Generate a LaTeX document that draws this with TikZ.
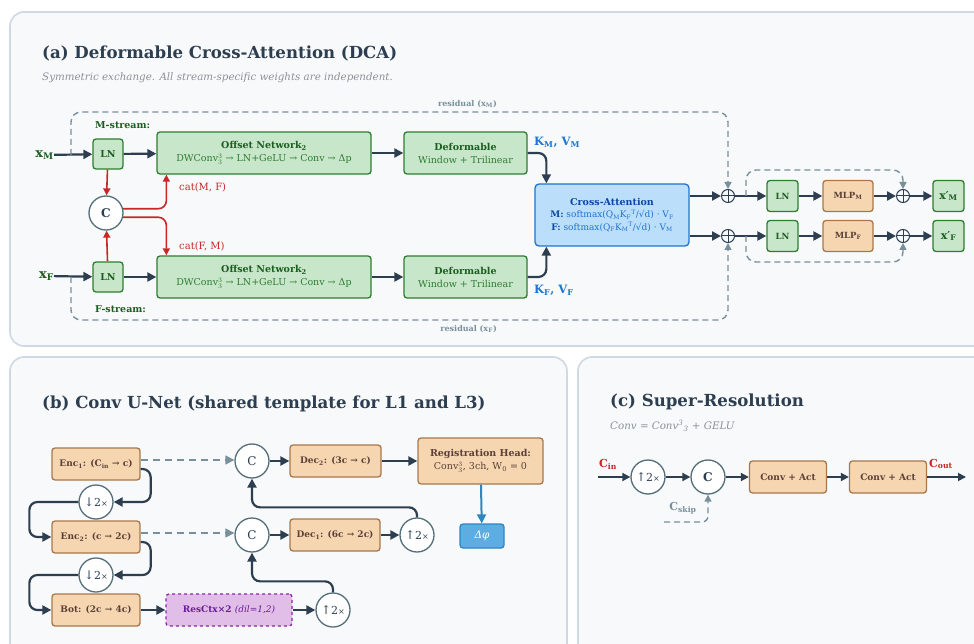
\documentclass[tikz,border=0pt]{standalone}
\usepackage{fontspec}
\setmainfont{DejaVu Serif}
\usetikzlibrary{arrows.meta,positioning}
\definecolor{navy}{HTML}{2C3E50}
\definecolor{panelline}{HTML}{CFD8E3}
\definecolor{panelbg}{HTML}{F8F9FA}
\definecolor{gfill}{HTML}{C8E6C9}
\definecolor{gline}{HTML}{2E7D32}
\definecolor{gtext}{HTML}{1B5E20}
\definecolor{ofill}{HTML}{F5D6B1}
\definecolor{oline}{HTML}{A8784C}
\definecolor{otext}{HTML}{5D4037}
\definecolor{bfill}{HTML}{BBDEFB}
\definecolor{bline}{HTML}{1E74D0}
\definecolor{btext}{HTML}{0D47A1}
\definecolor{catred}{HTML}{C62828}
\definecolor{resgray}{HTML}{78909C}
\definecolor{pfill}{HTML}{E1BEE7}
\definecolor{pline}{HTML}{8E24AA}
\definecolor{ptext}{HTML}{6A1B9A}
\definecolor{dfill}{HTML}{5DADE2}
\definecolor{dline}{HTML}{2E86C1}
\definecolor{circline}{HTML}{546E7A}
\definecolor{notegray}{HTML}{8A9299}
\newcommand{\updn}[1]{{\fontsize{12}{12}\selectfont#1}2{\fontsize{8}{8}\selectfont×}}
\begin{document}
\begin{tikzpicture}[x=1pt,y=-1pt,
    panel/.style={draw=panelline, fill=panelbg, line width=1.6pt, rounded corners=14pt},
    title/.style={anchor=west, inner sep=0pt, text=navy, font=\fontsize{16.6}{20}\selectfont\bfseries},
    note/.style={anchor=west, inner sep=0pt, text=notegray, font=\fontsize{10.3}{12}\selectfont\itshape},
    gbox/.style={draw=gline, fill=gfill, line width=1.3pt, rounded corners=3pt, align=center,
        inner sep=1pt, text=gtext, font=\fontsize{9.5}{13}\selectfont\bfseries},
    obox/.style={draw=oline, fill=ofill, line width=1.3pt, rounded corners=3pt, align=center,
        inner sep=1pt, text=otext, font=\fontsize{9}{13}\selectfont\bfseries, minimum height=32pt},
    circ/.style={circle, draw=circline, fill=white, line width=1.3pt, minimum size=34pt,
        inner sep=0pt, text=navy, font=\fontsize{11}{12}\selectfont},
    oplus/.style={circle, draw=navy, line width=1pt, minimum size=13pt, inner sep=0pt,
        path picture={\draw[navy, line width=1pt]
            (path picture bounding box.north) -- (path picture bounding box.south)
            (path picture bounding box.west) -- (path picture bounding box.east);}},
    arr/.style={draw=navy, line width=2.2pt, rounded corners=8pt, -{Triangle[length=9pt,width=9pt]}},
    redarr/.style={draw=catred, line width=1.6pt, rounded corners=8pt, -{Triangle[length=7pt,width=7pt]}},
    resid/.style={draw=resgray, line width=1.4pt, dash pattern=on 6pt off 4pt, rounded corners=10pt,
        -{Triangle[length=7pt,width=7pt]}},
    lab/.style={inner sep=0pt, font=\fontsize{9.5}{11}\selectfont\bfseries}]
\clip (0,0) rectangle (974,644);
\fill[white] (0,0) rectangle (974,644);
\draw[panel] (10,12) rectangle (1000,346);
\draw[panel] (10,357) rectangle (567,670);
\draw[panel] (578,357) rectangle (1000,670);

% (a)
\node[title] (ttla) at (42,53) {(a) Deformable Cross-Attention (DCA)};
\node[note] (nota) at (42,78) {Symmetric exchange. All stream-specific weights are independent.};
\node[lab, text=gtext, anchor=west] (mstr) at (95,125) {M-stream:};
\node[lab, text=gtext, anchor=west] (fstr) at (95,309) {F-stream:};
\node[lab, text=gtext, font=\fontsize{13}{14}\selectfont\bfseries, anchor=east] (xm) at (54,155) {x\textsubscript{M}};
\node[lab, text=gtext, font=\fontsize{13}{14}\selectfont\bfseries, anchor=east] (xf) at (54,276) {x\textsubscript{F}};
\node[gbox, minimum size=30pt] (lnm) at (108,154) {LN};
\node[gbox, minimum size=30pt] (lnf) at (108,277) {LN};
\node[gbox, minimum width=214pt, minimum height=42pt] (offm) at (264,153)
    {Offset Network\textsubscript{2}\\{\mdseries\color{gline}DWConv$^{3}_{3}$ → LN+GeLU → Conv → Δp}};
\node[gbox, minimum width=214pt, minimum height=42pt] (offf) at (264,277)
    {Offset Network\textsubscript{2}\\{\mdseries\color{gline}DWConv$^{3}_{3}$ → LN+GeLU → Conv → Δp}};
\node[gbox, minimum width=123pt, minimum height=42pt] (defm) at (465.5,153)
    {Deformable\\{\mdseries\color{gline}Window + Trilinear}};
\node[gbox, minimum width=123pt, minimum height=42pt] (deff) at (465.5,277)
    {Deformable\\{\mdseries\color{gline}Window + Trilinear}};
\node[circ, font=\fontsize{12}{12}\selectfont\bfseries] (cat) at (106,213) {C};
\node[draw=bline, fill=bfill, line width=1.3pt, rounded corners=4pt, minimum width=154pt,
    minimum height=62pt, align=center, inner sep=1pt, text=bline,
    font=\fontsize{9}{12.5}\selectfont] (ca) at (612,215)
    {{\color{btext}\bfseries\fontsize{9.5}{12}\selectfont Cross-Attention}\\
     {\color{btext}\bfseries M:} softmax(Q\textsubscript{M}K\textsubscript{F}\textsuperscript{T}/√d) · V\textsubscript{F}\\
     {\color{btext}\bfseries F:} softmax(Q\textsubscript{F}K\textsubscript{M}\textsuperscript{T}/√d) · V\textsubscript{M}};
\node[lab, text=bline, font=\fontsize{11.5}{14}\selectfont\bfseries, anchor=west] (kvm) at (534,142)
    {K\textsubscript{M}, V\textsubscript{M}};
\node[lab, text=bline, font=\fontsize{11.5}{14}\selectfont\bfseries, anchor=west] (kvf) at (534,290)
    {K\textsubscript{F}, V\textsubscript{F}};
\node[lab, text=catred, font=\fontsize{10}{12}\selectfont, anchor=west] (catmf) at (179,187) {cat(M, F)};
\node[lab, text=catred, font=\fontsize{10}{12}\selectfont, anchor=west] (catfm) at (179,246) {cat(F, M)};
\node[oplus] (pm) at (728,196) {};
\node[oplus] (pf) at (728,236) {};
\node[gbox, minimum size=31pt, font=\fontsize{8.5}{10}\selectfont\bfseries] (lnm2) at (782.5,196) {LN};
\node[gbox, minimum size=31pt, font=\fontsize{8.5}{10}\selectfont\bfseries] (lnf2) at (782.5,236) {LN};
\node[obox, minimum width=50pt, minimum height=31pt, font=\fontsize{8.5}{10}\selectfont\bfseries] (mlpm) at (848,196) {MLP\textsubscript{M}};
\node[obox, minimum width=50pt, minimum height=31pt, font=\fontsize{8.5}{10}\selectfont\bfseries] (mlpf) at (848,236) {MLP\textsubscript{F}};
\node[oplus] (pm2) at (903,196) {};
\node[oplus] (pf2) at (903,236) {};
\node[gbox, minimum size=31pt, font=\fontsize{11}{12}\selectfont\bfseries] (outm) at (948.5,196) {x′\textsubscript{M}};
\node[gbox, minimum size=31pt, font=\fontsize{11}{12}\selectfont\bfseries] (outf) at (948.5,236) {x′\textsubscript{F}};
\node[lab, text=resgray, font=\fontsize{8}{10}\selectfont\bfseries, anchor=east] (resm) at (497,104) {residual (x\textsubscript{M})};
\node[lab, text=resgray, font=\fontsize{8}{10}\selectfont\bfseries, anchor=east] (resf) at (497,329) {residual (x\textsubscript{F})};
\coordinate (rm) at (71,155);
\coordinate (rf) at (71,277);
\coordinate (rtop) at (400,112);
\coordinate (rbot) at (400,320);
\coordinate (mtop) at (825,170);
\coordinate (mbot) at (825,262);
\coordinate (mresm) at (746,196);
\coordinate (mresf) at (746,236);

\draw[arr] (xm) -- (lnm);
\draw[arr] (xf) -- (lnf);
\draw[arr] (lnm) -- (offm);
\draw[arr] (lnf) -- (offf);
\draw[arr] (offm) -- (defm);
\draw[arr] (offf) -- (deff);
\draw[arr] (defm.east) -| ([xshift=12pt]ca.north west);
\draw[arr] (deff.east) -| ([xshift=12pt]ca.south west);
\draw[redarr] (lnm) -- (cat);
\draw[redarr] (lnf) -- (cat);
\draw[redarr] (cat.14) -| ([xshift=10pt]offm.south west);
\draw[redarr] (cat.-14) -| ([xshift=10pt]offf.north west);
\draw[arr] (ca.east |- pm) -- (pm);
\draw[arr] (ca.east |- pf) -- (pf);
\draw[arr] (pm) -- (lnm2);
\draw[arr] (pf) -- (lnf2);
\draw[arr] (lnm2) -- (mlpm);
\draw[arr] (lnf2) -- (mlpf);
\draw[arr] (mlpm) -- (pm2);
\draw[arr] (mlpf) -- (pf2);
\draw[arr] (pm2) -- (outm);
\draw[arr] (pf2) -- (outf);
\draw[resid] (rm) |- (rtop) -| (pm.north);
\draw[resid] (rf) |- (rbot) -| (pf.south);
\draw[resid] (mresm) |- (mtop) -| (pm2.north);
\draw[resid] (mresf) |- (mbot) -| (pf2.south);

% (b)
\node[title] (ttlb) at (42,404) {(b) Conv U-Net (shared template for L1 and L3)};
\node[obox, minimum width=88pt] (enc1) at (96,464) {Enc\textsubscript{1}: (C\textsubscript{in} → c)};
\node[circ] (down1) at (96,502) {\updn{↓}};
\node[obox, minimum width=88pt] (enc2) at (96,537) {Enc\textsubscript{2}: (c → 2c)};
\node[circ] (down2) at (96,575) {\updn{↓}};
\node[obox, minimum width=88pt] (bot) at (96,610) {Bot: (2c → 4c)};
\node[draw=pline, fill=pfill, line width=1.3pt, dashed, rounded corners=3pt, minimum width=126pt,
    minimum height=32pt, text=ptext, font=\fontsize{9}{12}\selectfont\bfseries] (ctx) at (229,610)
    {ResCtx×2 {\mdseries\itshape(dil=1,2)}};
\node[circ] (up1) at (333,610) {\updn{↑}};
\node[circ, font=\fontsize{12}{12}\selectfont] (cl) at (252,535) {C};
\node[obox, minimum width=90pt] (dec1) at (335,535) {Dec\textsubscript{1}: (6c → 2c)};
\node[circ] (up2) at (417,535) {\updn{↑}};
\node[circ, font=\fontsize{12}{12}\selectfont] (cu) at (252,461) {C};
\node[obox, minimum width=91pt] (dec2) at (335.5,461) {Dec\textsubscript{2}: (3c → c)};
\node[obox, minimum width=125pt, minimum height=46pt, font=\fontsize{9.5}{13}\selectfont\bfseries] (reg) at (480.5,461)
    {Registration Head:\\{\mdseries Conv$^{3}_{3}$, 3ch, W\textsubscript{0} = 0}};
\node[draw=dline, fill=dfill, line width=1.3pt, rounded corners=3pt, minimum width=44pt,
    minimum height=24pt, text=white, font=\fontsize{10.5}{12}\selectfont\itshape] (dphi) at (482,536) {Δφ};

\draw[arr] ([yshift=-5pt]enc1.east) -- ++(10,0) |- (down1.east);
\draw[arr] (down1.west) -| ([xshift=-22pt]enc2.west) -- (enc2.west);
\draw[arr] ([yshift=-5pt]enc2.east) -- ++(10,0) |- (down2.east);
\draw[arr] (down2.west) -| ([xshift=-22pt]bot.west) -- (bot.west);
\draw[arr] (bot) -- (ctx);
\draw[arr] (ctx) -- (up1);
\draw[arr] (up1.north) -- ++(0,-11) -| (cl.south);
\draw[arr] (cl) -- (dec1);
\draw[arr] (dec1) -- (up2);
\draw[arr] (up2.north) -- ++(0,-10) -| (cu.south);
\draw[arr] (cu) -- (dec2);
\draw[arr] (dec2) -- (reg);
\draw[draw=dline, line width=2pt, -{Triangle[length=9pt,width=9pt]}] (reg) -- (dphi);
\draw[resid, dash pattern=on 7pt off 5pt, -{Triangle[length=9pt,width=9pt]}] ([yshift=4pt]enc1.east) -- ([yshift=4pt]enc1.east -| cu.west);
\draw[resid, dash pattern=on 7pt off 5pt, -{Triangle[length=9pt,width=9pt]}] ([yshift=4pt]enc2.east) -- ([yshift=4pt]enc2.east -| cl.west);

% (c)
\node[title] (ttlc) at (610,402) {(c) Super-Resolution};
\node[note] (notc) at (610,426) {Conv = Conv\textsuperscript{3}\textsubscript{3} + GELU};
\coordinate (cin) at (598,477);
\coordinate (cout) at (966,477);
\coordinate (csk) at (664,522);
\node[circ] (upc) at (648,477) {\updn{↑}};
\node[circ, font=\fontsize{12}{12}\selectfont\bfseries] (cc) at (708,477) {C};
\node[obox, minimum width=77pt] (act1) at (788,477) {Conv + Act};
\node[obox, minimum width=77pt] (act2) at (888,477) {Conv + Act};
\node[lab, text=catred, font=\fontsize{11}{12}\selectfont\bfseries, anchor=west] (cinl) at (599,464) {C\textsubscript{in}};
\node[lab, text=catred, font=\fontsize{11}{12}\selectfont\bfseries, anchor=west] (coutl) at (929,464) {C\textsubscript{out}};
\node[lab, text=resgray, font=\fontsize{11}{12}\selectfont\bfseries] (cskl) at (683,508) {C\textsubscript{skip}};
\draw[arr, line width=1.8pt, -{Triangle[length=8pt,width=8pt]}] (cin) -- (upc);
\draw[arr, line width=1.8pt, -{Triangle[length=8pt,width=8pt]}] (upc) -- (cc);
\draw[arr, line width=1.8pt, -{Triangle[length=8pt,width=8pt]}] (cc) -- (act1);
\draw[arr, line width=1.8pt, -{Triangle[length=8pt,width=8pt]}] (act1) -- (act2);
\draw[arr, line width=1.8pt, -{Triangle[length=8pt,width=8pt]}] (act2) -- (cout);
\draw[resid, rounded corners=6pt] (csk) -| (cc.south);
\end{tikzpicture}
\end{document}
